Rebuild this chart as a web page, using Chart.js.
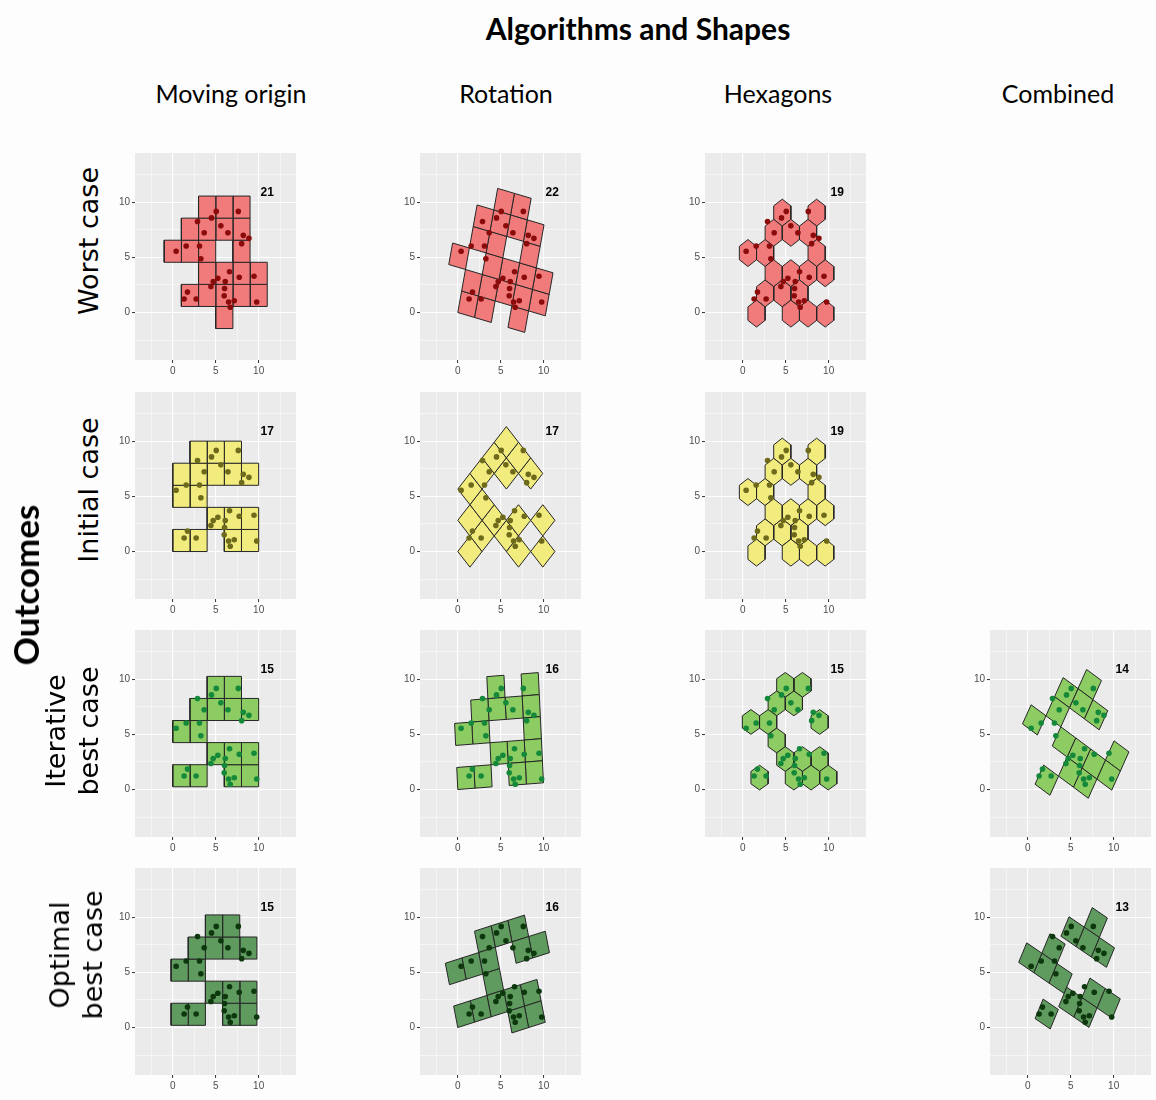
<!DOCTYPE html>
<html>
<head>
<meta charset="utf-8">
<script src="https://cdn.jsdelivr.net/npm/chart.js@4.4.1/dist/chart.umd.min.js"></script>
<style>
  body { margin: 0; background: #fdfdfd; width: 1156px; height: 1100px; position: relative; overflow: hidden; }
  .txt { position: absolute; white-space: nowrap; color: #000; transform: translate(-50%, -50%); }
  .rot { transform: translate(-50%, -50%) rotate(-90deg); text-align: center; }
  .panel { position: absolute; }
</style>
</head>
<body>
<script>
// sample points (same set in every panel)
const pointX = [2.88, 5.06, 7.63, 4.51, 3.66, 5.60, 6.42, 8.21, 8.87, 8.02, 0.39, 1.56, 3.11, 3.27, 6.61,
                7.74, 9.46, 5.25, 4.71, 6.11, 4.44, 6.03, 5.99, 1.71, 1.32, 2.72, 6.50, 7.16, 6.69, 9.77];
const pointY = [8.24, 9.16, 9.16, 8.57, 7.22, 7.85, 7.22, 6.99, 6.72, 6.24, 5.55, 6.03, 6.03, 4.87, 3.70,
                3.19, 3.28, 3.10, 2.81, 2.81, 2.36, 2.18, 1.52, 1.85, 1.22, 1.22, 0.96, 1.07, 0.48, 0.96];

// cells as grid indices [i, j] (squares) or [column, row] (hexagons)
const moWorstCells = [[2,5],[3,5],[4,5],[1,4],[2,4],[3,4],[4,4],[0,3],[1,3],[2,3],[4,3],
                      [2,2],[3,2],[4,2],[5,2],[1,1],[2,1],[3,1],[4,1],[5,1],[3,0]];
const moInitialCells = [[1,4],[2,4],[3,4],[0,3],[1,3],[2,3],[3,3],[4,3],[0,2],[1,2],
                        [2,1],[3,1],[4,1],[0,0],[1,0],[3,0],[4,0]];
const moBestCells = [[2,4],[3,4],[1,3],[2,3],[3,3],[4,3],[0,2],[1,2],
                     [2,1],[3,1],[4,1],[0,0],[1,0],[3,0],[4,0]];
const rotWorstCells = [[1,5],[2,5],[0,4],[1,4],[2,4],[3,4],[0,3],[1,3],[3,3],
                       [-1,2],[1,2],[2,2],[3,2],[4,2],[0,1],[1,1],[2,1],[3,1],[4,1],[0,0],[1,0],[3,0]];
const rotInitialCells = [[5,1],[4,1],[5,0],[3,1],[4,0],[5,-1],[2,1],[2,0],[1,0],[2,-1],
                         [3,-2],[4,-3],[1,-1],[2,-2],[0,-1],[2,-3],[3,-4]];
const rotIterCells = [[0,0],[1,0],[3,0],[4,0],[2,1],[3,1],[4,1],[0,2],[1,2],[4,2],
                      [1,3],[2,3],[3,3],[4,3],[2,4],[4,4]];
const rotOptimalCells = [[3,-1],[4,-1],[0,0],[1,0],[2,0],[3,0],[4,0],[2,1],[0,2],[1,2],
                         [2,2],[4,2],[5,2],[2,3],[3,3],[4,3]];
const hexWorstCells = [[1,0],[5,0],[7,0],[9,0],[2,1],[4,1],[6,1],[3,2],[5,2],[7,2],[9,2],
                       [0,3],[2,3],[8,3],[3,4],[5,4],[7,4],[4,5],[8,5]];
const hexInitialCells = [[1,0],[5,0],[7,0],[9,0],[2,1],[4,1],[6,1],[3,2],[5,2],[7,2],[9,2],
                         [0,3],[2,3],[8,3],[3,4],[5,4],[7,4],[4,5],[8,5]];
const hexIterCells = [[2,0],[6,0],[8,0],[10,0],[5,1],[7,1],[9,1],[4,2],[1,3],[3,3],[9,3],
                      [4,4],[6,4],[5,5],[7,5]];
const combIterCells = [[0,0],[1,1],[2,1],[0,2],[1,2],[2,2],[3,2],[3,3],[-2,2],[-1,3],
                       [-1,4],[0,4],[1,4],[0,5]];
const combOptimalCells = [[0,0],[0.96,1.12],[1.96,1.12],[1.96,2.12],[2.96,2.12],[-2.04,1.8],
                          [-1.04,1.8],[-0.04,1.8],[-1.04,2.8],[-0.42,4],[0.58,4],[1.58,4],[0.58,5]];

const cellCounts = [21, 22, 19, 17, 17, 19, 15, 16, 15, 14, 15, 16, 13];
const gridTicks = [-2.5, 0, 2.5, 5, 7.5, 10, 12.5];
const columnTitles = ["Moving origin", "Rotation", "Hexagons", "Combined"];
const rowTitles = [["Worst case"], ["Initial case"], ["Iterative", "best case"], ["Optimal", "best case"]];

const rowFill = ["#f17b7b", "#f2eb7e", "#8dcb63", "#5f9a5f"];
const rowDot = ["#8b0b0b", "#6e6a1c", "#14893a", "#0d380d"];

const colLeft = [135, 420, 705, 990];
const rowTop = [153, 392, 630, 868];
const PW = 161, PH = 207, AXW = 30, AXH = 24;

const panels = [
  {row: 0, col: 0, cells: moWorstCells, grid: {origin: [-1, -1.45], angle: 0}},
  {row: 0, col: 1, cells: rotWorstCells, grid: {origin: [0, 0], angle: -13}},
  {row: 0, col: 2, cells: hexWorstCells, grid: {hex: true, x0: 0.6, y0: -0.1, dy: 1.83, r: 1.22}},
  {row: 1, col: 0, cells: moInitialCells, grid: {origin: [0, 0], angle: 0}},
  {row: 1, col: 1, cells: rotInitialCells, grid: {origin: [0, 0], angle: 45}},
  {row: 1, col: 2, cells: hexInitialCells, grid: {hex: true, x0: 0.6, y0: -0.1, dy: 1.83, r: 1.22}},
  {row: 2, col: 0, cells: moBestCells, grid: {origin: [0, 0.25], angle: 0}},
  {row: 2, col: 1, cells: rotIterCells, grid: {origin: [0, 0], angle: 3.5}},
  {row: 2, col: 2, cells: hexIterCells, grid: {hex: true, x0: -0.05, y0: 1.08, dy: 1.68, r: 1.12}},
  {row: 2, col: 3, cells: combIterCells, grid: {origin: [0.85, 0.48], angle: -30}},
  {row: 3, col: 0, cells: moBestCells, grid: {origin: [-0.2, 0.2], angle: 0}},
  {row: 3, col: 1, cells: rotOptimalCells, grid: {origin: [0, 0], angle: 14}},
  {row: 3, col: 3, cells: combOptimalCells, grid: {origin: [0.85, 0.81], angle: -28}},
];

function cellOutline(g, c) {
  if (g.hex) {
    const cx = g.x0 + c[0], cy = g.y0 + c[1] * g.dy, r = g.r;
    return [[0, r], [1, r / 2], [1, -r / 2], [0, -r], [-1, -r / 2], [-1, r / 2], [0, r]]
      .map(([dx, dy]) => ({x: cx + dx, y: cy + dy}));
  }
  const a = g.angle * Math.PI / 180;
  const ux = Math.cos(a), uy = Math.sin(a), vx = -Math.sin(a), vy = Math.cos(a);
  return [[0, 0], [1, 0], [1, 1], [0, 1], [0, 0]].map(([p, q]) => {
    const i = c[0] + p, j = c[1] + q;
    return {x: g.origin[0] + 2 * (i * ux + j * vx), y: g.origin[1] + 2 * (i * uy + j * vy)};
  });
}

const panelBg = {
  id: "panelBg",
  beforeDraw(chart) {
    const {ctx, chartArea: a} = chart;
    ctx.save();
    ctx.fillStyle = "#ebebeb";
    ctx.fillRect(a.left, a.top, a.right - a.left, a.bottom - a.top);
    ctx.restore();
  }
};

const countLabel = {
  id: "countLabel",
  afterDatasetsDraw(chart, args, opts) {
    const {ctx, scales: {x, y}} = chart;
    ctx.save();
    ctx.font = 'bold 12px "Liberation Sans Narrow", "Liberation Sans", sans-serif';
    ctx.fillStyle = "#000";
    ctx.textAlign = "center";
    ctx.textBaseline = "middle";
    ctx.fillText(opts.text, x.getPixelForValue(11), y.getPixelForValue(10.9));
    ctx.restore();
  }
};

const isMajor = v => v % 5 === 0;

function axis(horizontal) {
  return {
    type: "linear",
    min: horizontal ? -4.4 : -4.3,
    max: horizontal ? 14.35 : 14.45,
    afterBuildTicks: s => { s.ticks = gridTicks.map(v => ({value: v})); },
    afterFit: s => { if (horizontal) s.height = AXH; else s.width = AXW; },
    border: {display: false},
    grid: {
      color: "#ffffff",
      lineWidth: c => isMajor(c.tick.value) ? 1.1 : 0.5,
      tickColor: c => isMajor(c.tick.value) ? "#333333" : "rgba(0,0,0,0)",
      tickWidth: 1,
      tickLength: 3
    },
    ticks: {
      autoSkip: false,
      maxRotation: 0,
      padding: 2,
      color: "#4d4d4d",
      font: {family: '"Liberation Sans Narrow", "Liberation Sans", sans-serif', size: 10},
      callback: v => isMajor(v) ? String(v) : ""
    }
  };
}

function buildConfig(p, k) {
  const datasets = [{
    data: pointX.map((x, i) => ({x: x, y: pointY[i]})),
    pointRadius: 2.8,
    backgroundColor: rowDot[p.row],
    borderWidth: 0,
    showLine: false
  }];
  p.cells.forEach(c => {
    datasets.push({
      data: cellOutline(p.grid, c),
      showLine: true,
      fill: "shape",
      backgroundColor: rowFill[p.row],
      borderColor: "#262626",
      borderWidth: 1,
      pointRadius: 0,
      tension: 0
    });
  });
  return {
    type: "scatter",
    data: {datasets},
    options: {
      responsive: false,
      animation: false,
      events: [],
      layout: {padding: 0},
      plugins: {legend: {display: false}, tooltip: {enabled: false}, countLabel: {text: String(cellCounts[k])}},
      scales: {x: axis(true), y: axis(false)}
    },
    plugins: [panelBg, countLabel]
  };
}

panels.forEach((p, k) => {
  const wrap = document.createElement("div");
  wrap.className = "panel";
  const canvas = document.createElement("canvas");
  canvas.width = PW + AXW;
  canvas.height = PH + AXH;
  wrap.appendChild(canvas);
  document.body.appendChild(wrap);

  let chart = new Chart(canvas, buildConfig(p, k));
  // grow the canvas so the plot area gets exactly PW x PH
  let a = chart.chartArea;
  const w = canvas.width + PW - (a.right - a.left);
  const h = canvas.height + PH - (a.bottom - a.top);
  chart.destroy();
  canvas.width = w;
  canvas.height = h;
  canvas.style.width = w + "px";
  canvas.style.height = h + "px";
  chart = new Chart(canvas, buildConfig(p, k));
  a = chart.chartArea;
  wrap.style.left = (colLeft[p.col] - a.left) + "px";
  wrap.style.top = (rowTop[p.row] - a.top) + "px";
});

function addText(text, cx, cy, css, rotated) {
  const d = document.createElement("div");
  d.className = rotated ? "txt rot" : "txt";
  d.style.left = cx + "px";
  d.style.top = cy + "px";
  d.style.cssText += css;
  d.innerHTML = text;
  document.body.appendChild(d);
}

addText("Algorithms and Shapes", 638, 28, "font: bold 30px Lato, sans-serif;");
const colCenters = [231, 506, 778, 1058];
columnTitles.forEach((t, i) => addText(t, colCenters[i], 93, "font: 25px Lato, sans-serif;"));
const rowCenters = [[88, 241], [88, 490], [72, 731], [76, 955]];
rowTitles.forEach((t, i) => addText(t.join("<br>"), rowCenters[i][0], rowCenters[i][1],
  "font: 27px 'DejaVu Sans', sans-serif; line-height: 33px;", true));
addText("Outcomes", 25, 585, "font: bold 35px Lato, sans-serif;", true);
</script>
</body>
</html>
